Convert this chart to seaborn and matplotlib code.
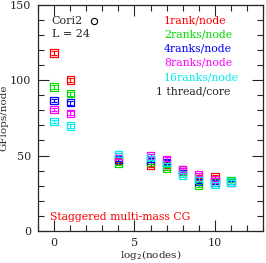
import numpy as np
import pandas as pd
import seaborn as sns
from matplotlib import pyplot as plt
from matplotlib.ticker import MultipleLocator

sns.set_style("ticks")
plt.rcParams["font.family"] = ["DejaVu Serif"]

# log2(nodes) and GFlops/node for each ranks-per-node setting
x_1rank = [0, 1, 4, 6, 7, 8, 9, 10]
y_1rank = [118, 100, 47, 43.5, 43, 40.5, 36, 36]
x_2ranks = [0, 1, 4, 6, 7, 8, 9, 10, 11]
y_2ranks = [95.5, 91, 45, 45.5, 41.5, 38, 30, 32, 33.5]
x_4ranks = [0, 1, 4, 6, 7, 8, 9, 10, 11]
y_4ranks = [86.5, 85, 47.5, 47, 45.5, 39.5, 33, 32.5, 32]
x_8ranks = [0, 1, 4, 6, 7, 8, 9, 10]
y_8ranks = [80.5, 78, 49, 50, 47.5, 40.5, 37.5, 34]
x_16ranks = [0, 1, 4, 6, 7, 8, 9, 10, 11]
y_16ranks = [72.5, 69.5, 50.5, 48.5, 44, 37, 34.5, 31, 32.5]
err = 1.2

series = [
    ("1rank/node", x_1rank, y_1rank, "#ff0000"),
    ("2ranks/node", x_2ranks, y_2ranks, "#00dd00"),
    ("4ranks/node", x_4ranks, y_4ranks, "#0000ff"),
    ("8ranks/node", x_8ranks, y_8ranks, "#ff00ff"),
    ("16ranks/node", x_16ranks, y_16ranks, "#00eeee"),
]

fig = plt.figure(figsize=(2.66, 2.63), dpi=100)
ax = fig.add_axes([0.143, 0.122, 0.846, 0.86])

for label, xs, ys, c in series:
    df = pd.DataFrame({"x": xs, "y": ys})
    ax.errorbar(df["x"], df["y"], yerr=err, fmt="none", ecolor=c,
                elinewidth=0.8, capsize=2.5, capthick=0.8)
    sns.scatterplot(data=df, x="x", y="y", marker="s", s=28,
                    facecolor="none", edgecolor=c, linewidth=0.9, ax=ax)

ax.set_xlim(-1, 13)
ax.set_ylim(0, 150)
ax.xaxis.set_major_locator(MultipleLocator(5))
ax.xaxis.set_minor_locator(MultipleLocator(1))
ax.yaxis.set_major_locator(MultipleLocator(50))
ax.yaxis.set_minor_locator(MultipleLocator(10))
ax.tick_params(which="both", direction="in", top=True, right=True,
               labelsize=8, width=0.8, pad=5)
ax.tick_params(which="major", length=8)
ax.tick_params(which="minor", length=4)
for s in ax.spines.values():
    s.set_linewidth(0.9)
ax.set_xlabel("log$_2$(nodes)", fontsize=7.5, labelpad=0)
ax.set_ylabel("GFlops/node", fontsize=7.5, labelpad=1)

# annotations
ax.text(0.06, 0.93, "Cori2", transform=ax.transAxes, fontsize=8, va="center")
ax.plot([0.25], [0.93], transform=ax.transAxes, marker="o", ms=4.5,
        mfc="none", mec="black", mew=0.8)
ax.text(0.06, 0.87, "L = 24", transform=ax.transAxes, fontsize=8, va="center")
ty = [0.93, 0.87, 0.805, 0.745, 0.68]
for (label, xs, ys, c), yy in zip(series, ty):
    ax.text(0.56, yy, label, transform=ax.transAxes, fontsize=7.8,
            color=c, va="center")
ax.text(0.525, 0.615, "1 thread/core", transform=ax.transAxes, fontsize=7.8,
        va="center")
ax.text(0.055, 0.06, "Staggered multi-mass CG", transform=ax.transAxes,
        fontsize=7.8, color="#ff0000", va="center")

fig.savefig("out.png", dpi=100)
